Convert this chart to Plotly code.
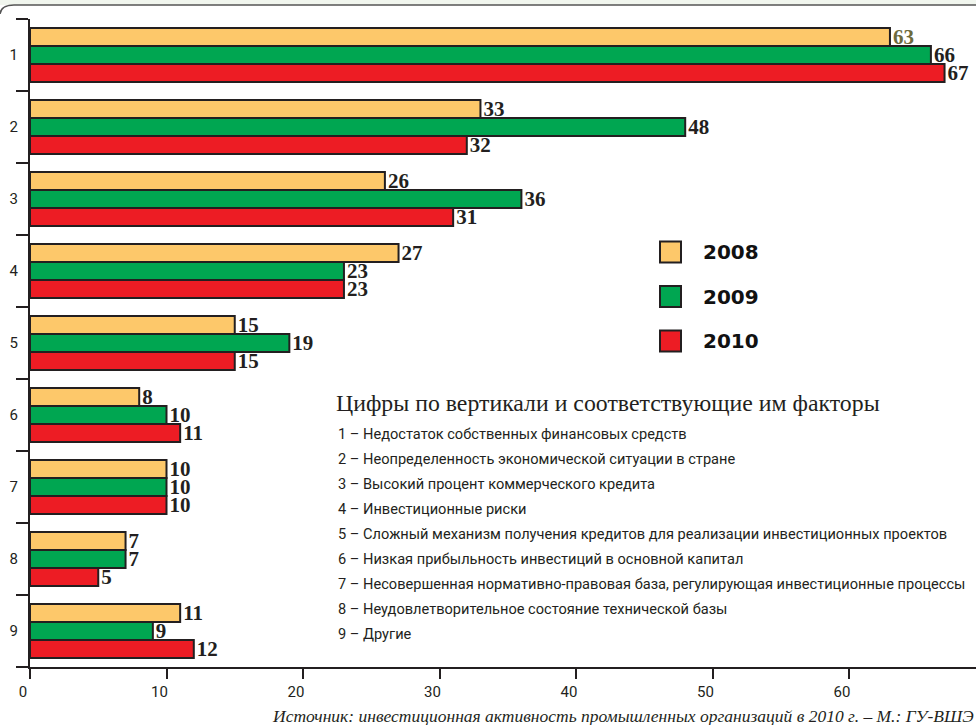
import plotly.graph_objects as go

categories = [1, 2, 3, 4, 5, 6, 7, 8, 9]
v2008 = [63, 33, 26, 27, 15, 8, 10, 7, 11]
v2009 = [66, 48, 36, 23, 19, 10, 10, 7, 9]
v2010 = [67, 32, 31, 23, 15, 11, 10, 5, 12]
years = ["2008", "2009", "2010"]
colors = ["#FDC86A", "#00A651", "#ED1C24"]
label_colors_2008 = ["#6d6a3c"] + ["#231f20"] * 8
factors_title = "Цифры по вертикали и соответствующие им факторы"
factors = [
    "Недостаток собственных финансовых средств",
    "Неопределенность экономической ситуации в стране",
    "Высокий процент коммерческого кредита",
    "Инвестиционные риски",
    "Сложный механизм получения кредитов для реализации инвестиционных проектов",
    "Низкая прибыльность инвестиций в основной капитал",
    "Несовершенная нормативно-правовая база, регулирующая инвестиционные процессы",
    "Неудовлетворительное состояние технической базы",
    "Другие",
]
source = "Источник: инвестиционная активность промышленных организаций в 2010 г. – М.: ГУ-ВШЭ"

W, H = 976, 725
L, R, T, B = 30, 0, 19, 58
pw, ph = W - L - R, H - T - B

def px(x):
    return (x - L) / pw

def py(y):
    return 1 - (y - T) / ph

narrow = "Roboto, sans-serif"
serif = "Liberation Serif, Times New Roman, serif"

fig = go.Figure()
series = [v2008, v2009, v2010]
for i, (yr, vals, col) in enumerate(zip(years, series, colors)):
    tcol = label_colors_2008 if i == 0 else "#231f20"
    fig.add_trace(go.Bar(
        y=categories, x=vals, orientation="h", name=yr,
        marker=dict(color=col, line=dict(color="#231f20", width=2)),
        text=[str(v) for v in vals], textposition="outside", constraintext="none",
        textfont=dict(family=serif, size=21, color=tcol, weight="bold"),
        cliponaxis=False, showlegend=False,
    ))

fig.update_layout(
    width=W, height=H,
    margin=dict(l=L, r=R, t=T, b=B, autoexpand=False),
    paper_bgcolor="white", plot_bgcolor="white",
    barmode="group", bargap=0.25, bargroupgap=0,
    xaxis=dict(
        range=[0, pw / 13.65], tickvals=[0, 10, 20, 30, 40, 50, 60, 70],
        showgrid=False, zeroline=False, showline=True, linecolor="#231f20", linewidth=2,
        ticks="outside", ticklen=10, tickwidth=2, tickcolor="#231f20", automargin=False,
        ticklabelshift=-7,
        tickfont=dict(family=narrow, size=15, color="#231f20"),
    ),
    yaxis=dict(
        range=[9.5, 0.5], tickvals=categories, ticktext=[str(c) for c in categories],
        showgrid=False, zeroline=False, showline=True, linecolor="#231f20", linewidth=2,
        ticks="", ticklen=0, automargin=False, ticklabelstandoff=7,
        tickfont=dict(family=narrow, size=15, color="#231f20"),
        minor=dict(tickvals=[c - 0.5 for c in categories] + [9.5], ticks="outside",
                   ticklen=12, tickwidth=2, tickcolor="#231f20"),
    ),
)

# extend x-axis line slightly to the left
fig.add_shape(type="line", xref="paper", yref="paper", x0=px(18), x1=px(30), y0=0, y1=0,
              line=dict(color="#231f20", width=2))

# top frame
fig.add_shape(type="rect", xref="paper", yref="paper", x0=px(0), x1=px(W), y0=py(5), y1=py(0),
              fillcolor="#f1f6ee", line=dict(width=0), layer="below")
fig.add_shape(type="path", xref="paper", yref="paper",
              path=f"M {px(0)},{py(14)} Q {px(1)},{py(5)} {px(14)},{py(5)} L {px(W)},{py(5)}",
              line=dict(color="#555555", width=1.5))

# legend
for i, (yr, col) in enumerate(zip(years, colors)):
    yc = 252 + i * 44.5
    fig.add_shape(type="rect", xref="paper", yref="paper",
                  x0=px(660), x1=px(681), y0=py(yc + 10.5), y1=py(yc - 10.5),
                  fillcolor=col, line=dict(color="#231f20", width=2))
    fig.add_annotation(xref="paper", yref="paper", x=px(701), y=py(yc), text=yr,
                       showarrow=False, xanchor="left", yanchor="middle",
                       font=dict(family="DejaVu Sans", size=20, color="#111111", weight="bold"))

# factors block
fig.add_annotation(xref="paper", yref="paper", x=px(334), y=py(403), text=factors_title,
                   showarrow=False, xanchor="left", yanchor="middle",
                   font=dict(family=serif, size=23.8, color="#231f20"))
for i, f in enumerate(factors):
    fig.add_annotation(xref="paper", yref="paper", x=px(336), y=py(434 + i * 25),
                       text=f"{categories[i]} – {f}", showarrow=False,
                       xanchor="left", yanchor="middle",
                       font=dict(family=narrow, size=14.6, color="#231f20"))

fig.add_annotation(xref="paper", yref="paper", x=px(976), y=py(716), text=f"<i>{source}</i>",
                   showarrow=False, xanchor="right", yanchor="middle",
                   font=dict(family=serif, size=17.5, color="#231f20"))

fig.write_html("out.html", config={"displayModeBar": False},
               post_script="document.body.style.margin='0px';")
